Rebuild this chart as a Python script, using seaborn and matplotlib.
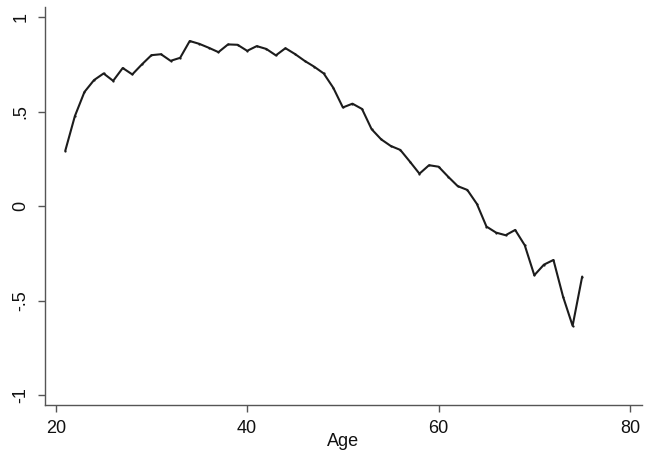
import numpy as np
import pandas as pd
import matplotlib
matplotlib.use("Agg")
import matplotlib.pyplot as plt
import seaborn as sns

# Age profile (annual, ages 21-75)
ages = list(range(21, 76))
effect = [
    0.294, 0.477, 0.605, 0.668, 0.703, 0.664, 0.732, 0.698, 0.751, 0.800,
    0.805, 0.770, 0.786, 0.875, 0.860, 0.839, 0.816, 0.857, 0.855, 0.823,
    0.848, 0.833, 0.799, 0.837, 0.806, 0.770, 0.739, 0.703, 0.627, 0.523,
    0.543, 0.515, 0.408, 0.354, 0.319, 0.298, 0.236, 0.172, 0.217, 0.209,
    0.156, 0.106, 0.086, 0.012, -0.108, -0.140, -0.154, -0.126, -0.207, -0.366,
    -0.310, -0.285, -0.479, -0.634, -0.373,
]
x_ticks = [20, 40, 60, 80]
y_ticks = [-1, -0.5, 0, 0.5, 1]
y_tick_labels = ["-1", "-.5", "0", ".5", "1"]

df = pd.DataFrame({"Age": ages, "effect": effect})

sns.set_theme(style="white")
plt.rcParams["font.family"] = ["Liberation Sans", "DejaVu Sans"]

fig = plt.figure(figsize=(6.48, 4.57), dpi=100)
ax = fig.add_axes([0.069, 0.114, 0.921, 0.871])

sns.lineplot(data=df, x="Age", y="effect", ax=ax, color="#1c1c1c",
             linewidth=1.5, marker="o", markersize=1.6, markeredgewidth=0)

ax.set_xlim(18.85, 81.2)
ax.set_ylim(-1.053, 1.056)
ax.set_xticks(x_ticks)
ax.set_xticklabels([str(t) for t in x_ticks], fontsize=13, color="#111111")
ax.set_yticks(y_ticks)
ax.set_yticklabels(y_tick_labels, fontsize=13, color="#111111",
                   rotation=90, va="center")
ax.set_xlabel("Age", fontsize=13, color="#111111", labelpad=-3)
ax.set_ylabel("")

for side in ("top", "right"):
    ax.spines[side].set_visible(False)
for side in ("left", "bottom"):
    ax.spines[side].set_color("#555555")
    ax.spines[side].set_linewidth(1.0)
ax.tick_params(axis="x", which="major", length=5, width=1.0,
               color="#555555", direction="out", bottom=True, pad=6)
ax.tick_params(axis="y", which="major", length=5, width=1.0,
               color="#555555", direction="out", left=True, pad=6)
ax.grid(False)

fig.savefig("out.png", dpi=100, facecolor="white")
